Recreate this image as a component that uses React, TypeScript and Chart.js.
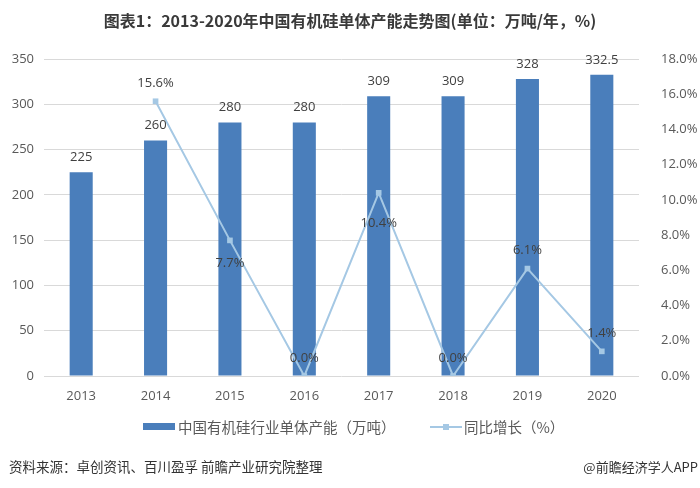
import React, { useEffect, useRef } from "react";
import { Chart, registerables } from "chart.js";

Chart.register(...registerables);

const years = ["2013", "2014", "2015", "2016", "2017", "2018", "2019", "2020"];
const capacity = [225, 260, 280, 280, 309, 309, 328, 332.5];
const growth = [null, 15.6, 7.7, 0.0, 10.4, 0.0, 6.1, 1.4];
const growthLabelPlacement = ["", "above", "below", "above", "below", "above", "above", "above"];
const leftTicks = [0, 50, 100, 150, 200, 250, 300, 350];

const title = "图表1：2013-2020年中国有机硅单体产能走势图(单位：万吨/年，%)";
const barLegend = "中国有机硅行业单体产能（万吨）";
const lineLegend = "同比增长（%）";
const sourceText = "资料来源：卓创资讯、百川盈孚 前瞻产业研究院整理";
const brandText = "@前瞻经济学人APP";

const BAR_COLOR = "#4A7EBB";
const LINE_COLOR = "#A5C8E4";
const TICK_FONT = "'Open Sans', 'Noto Sans', sans-serif";
const CJK = "'Noto Sans CJK SC', sans-serif";

const decorPlugin = {
  id: "decor",
  afterDatasetsDraw(chart: any) {
    const ctx = chart.ctx;
    ctx.save();
    const barMeta = chart.getDatasetMeta(0);
    ctx.font = `13px ${TICK_FONT}`;
    ctx.fillStyle = "#404040";
    ctx.textAlign = "center";
    ctx.textBaseline = "middle";
    barMeta.data.forEach((el: any, i: number) => {
      ctx.fillText(String(capacity[i]), el.x, el.y - 15);
    });
    const lineMeta = chart.getDatasetMeta(1);
    lineMeta.data.forEach((el: any, i: number) => {
      const v = growth[i];
      if (v === null || v === undefined) return;
      const place = growthLabelPlacement[i];
      let dy = -18;
      if (place === "below") dy = v > 9 ? 30 : 23;
      ctx.fillStyle = "#404040";
      ctx.fillText(v.toFixed(1) + "%", el.x, el.y + dy);
    });
    ctx.restore();
  },
  afterDraw(chart: any) {
    const ctx = chart.ctx;
    ctx.save();
    ctx.font = `bold 16px ${CJK}`;
    ctx.fillStyle = "#3A3A3A";
    ctx.textAlign = "center";
    ctx.textBaseline = "middle";
    ctx.fillText(title, 350, 21);
    // legend
    ctx.textAlign = "left";
    ctx.fillStyle = BAR_COLOR;
    ctx.fillRect(143, 423, 32, 7);
    ctx.font = `14.5px ${CJK}`;
    ctx.fillStyle = "#595959";
    ctx.fillText(barLegend, 178, 427);
    ctx.strokeStyle = LINE_COLOR;
    ctx.lineWidth = 2;
    ctx.beginPath();
    ctx.moveTo(430, 427);
    ctx.lineTo(462, 427);
    ctx.stroke();
    ctx.fillStyle = LINE_COLOR;
    ctx.fillRect(443, 424, 6, 6);
    ctx.fillStyle = "#595959";
    ctx.fillText(lineLegend, 464, 427);
    // footer
    ctx.font = `13.5px ${CJK}`;
    ctx.fillStyle = "#333333";
    ctx.fillText(sourceText, 9, 467);
    ctx.textAlign = "right";
    ctx.font = `13px ${CJK}`;
    ctx.fillText(brandText, 698, 467);
    ctx.restore();
  },
};

export default function App() {
  const ref = useRef<HTMLCanvasElement>(null);
  useEffect(() => {
    document.body.style.margin = "0";
    const chart = new Chart(ref.current as HTMLCanvasElement, {
      type: "bar",
      data: {
        labels: years,
        datasets: [
          {
            type: "bar",
            label: barLegend,
            data: capacity,
            backgroundColor: BAR_COLOR,
            barPercentage: 0.31,
            categoryPercentage: 1,
            yAxisID: "y",
            order: 2,
          },
          {
            type: "line",
            label: lineLegend,
            data: growth as any,
            borderColor: LINE_COLOR,
            backgroundColor: LINE_COLOR,
            borderWidth: 2,
            pointStyle: "rect",
            pointRadius: 4,
            pointBorderWidth: 0,
            spanGaps: false,
            yAxisID: "y1",
            order: 1,
          },
        ],
      },
      options: {
        responsive: false,
        animation: false,
        layout: { padding: { top: 59, bottom: 80, left: 0, right: 0 } },
        plugins: {
          legend: { display: false },
          tooltip: { enabled: false },
          title: { display: false },
        },
        scales: {
          x: {
            grid: { display: false },
            border: { display: false },
            ticks: { color: "#595959", font: { size: 13, family: TICK_FONT }, padding: 4 },
            afterFit(scale: any) {
              scale.height = 32;
            },
          },
          y: {
            position: "left",
            min: 0,
            max: 350,
            afterBuildTicks(scale: any) {
              scale.ticks = leftTicks.map((v) => ({ value: v }));
            },
            grid: { color: "#D9D9D9", lineWidth: 1, drawTicks: false },
            border: { display: false },
            ticks: { color: "#595959", font: { size: 13, family: TICK_FONT }, padding: 10 },
            afterFit(scale: any) {
              scale.width = 44;
            },
          },
          y1: {
            position: "right",
            min: 0,
            max: 18,
            grid: { display: false },
            border: { display: false },
            ticks: {
              stepSize: 2,
              color: "#595959",
              font: { size: 13, family: TICK_FONT },
              padding: 14,
              callback: (v: any) => Number(v).toFixed(1) + "%",
            },
            afterFit(scale: any) {
              scale.width = 61;
            },
          },
        },
      },
      plugins: [decorPlugin],
    });
    return () => chart.destroy();
  }, []);
  return (
    <div style={{ width: 700, height: 488 }}>
      <canvas ref={ref} width={700} height={488} />
    </div>
  );
}
